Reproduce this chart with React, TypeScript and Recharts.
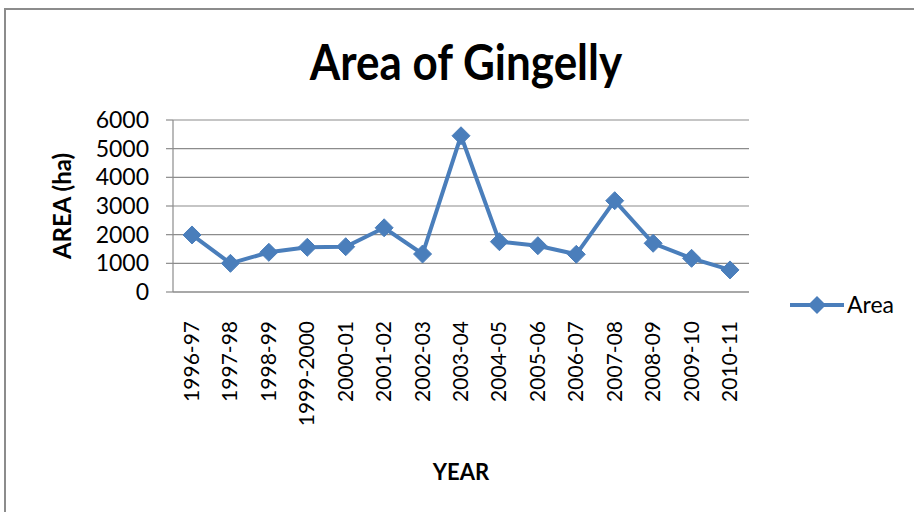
import React from "react";
import { LineChart, Line, XAxis, YAxis, CartesianGrid, Label } from "recharts";

const years = [
  "1996-97", "1997-98", "1998-99", "1999-2000", "2000-01", "2001-02", "2002-03", "2003-04",
  "2004-05", "2005-06", "2006-07", "2007-08", "2008-09", "2009-10", "2010-11",
];
const areaValues = [1990, 1000, 1385, 1560, 1580, 2240, 1325, 5450, 1755, 1615, 1315, 3185, 1700, 1175, 770];
const yTicks = [0, 1000, 2000, 3000, 4000, 5000, 6000];
const seriesName = "Area";

const data = years.map((y, i) => ({ year: y, Area: areaValues[i] }));

const BLUE = "#4A7EBB";
const GRID = "#8c8c8c";
const FONT = "Lato, 'Open Sans', sans-serif";

const Diamond = (props: any) => {
  const { cx, cy } = props;
  if (cx == null || cy == null) return null;
  const r = 9;
  return (
    <path
      d={`M${cx},${cy - r} L${cx + r},${cy} L${cx},${cy + r} L${cx - r},${cy} Z`}
      fill={BLUE}
      stroke={BLUE}
      strokeWidth={1}
    />
  );
};

const XTick = (props: any) => {
  const { x, y, payload } = props;
  return (
    <text
      x={0}
      y={0}
      transform={`translate(${x + 7},${y + 21}) rotate(-90)`}
      textAnchor="end"
      fontSize={21}
      fontFamily={FONT}
      fill="#000"
    >
      {payload.value}
    </text>
  );
};

export default function App() {
  return (
    <div style={{ position: "absolute", left: 0, top: 0, width: 914, height: 512, background: "#fff", overflow: "hidden" }}>
      <div
        style={{
          position: "absolute",
          left: 4,
          top: 8,
          width: 920,
          height: 520,
          borderLeft: "2px solid #8c8c8c",
          borderTop: "2px solid #8c8c8c",
        }}
      />
      <svg style={{ position: "absolute", left: 0, top: 0 }} width={914} height={512}>
        <text
          x={0}
          y={0}
          transform="translate(466,80) scale(1,1.15)"
          textAnchor="middle"
          fontSize={44}
          fontWeight={700}
          fontFamily={FONT}
          fill="#000"
        >
          Area of Gingelly
        </text>
        <line x1={790} y1={305} x2={844} y2={305} stroke={BLUE} strokeWidth={4} />
        <path d="M817,296 L826,305 L817,314 L808,305 Z" fill={BLUE} />
        <text x={847} y={313} fontSize={23} fontFamily={FONT} fill="#000">
          {seriesName}
        </text>
      </svg>
      <div style={{ position: "absolute", left: 0, top: 0 }}>
        <LineChart
          width={914}
          height={512}
          data={data}
          margin={{ top: 120, right: 165, bottom: 120, left: 113 }}
        >
          <CartesianGrid horizontal={true} vertical={false} stroke={GRID} strokeWidth={1.2} />
          <XAxis
            dataKey="year"
            interval={0}
            tick={<XTick />}
            tickLine={false}
            axisLine={{ stroke: GRID, strokeWidth: 1.2 }}
            padding={{ left: 19, right: 19 }}
            height={100}
          >
            <Label
              value="YEAR"
              position="insideBottom"
              offset={-88}
              style={{ fontFamily: FONT, fontWeight: 700, fontSize: 22, fill: "#000" }}
            />
          </XAxis>
          <YAxis
            domain={[0, 6000]}
            ticks={yTicks}
            interval={0}
            width={60}
            tick={{ fontSize: 23, fontFamily: FONT, fill: "#000" }}
            tickLine={{ stroke: GRID, strokeWidth: 1.2 }}
            tickSize={7}
            tickMargin={17}
            axisLine={{ stroke: GRID, strokeWidth: 1.2 }}
          >
            <Label
              value="AREA (ha)"
              angle={-90}
              position="insideLeft"
              offset={-51}
              style={{ fontFamily: FONT, fontWeight: 700, fontSize: 24, fill: "#000", textAnchor: "middle" }}
            />
          </YAxis>
          <Line
            type="linear"
            dataKey="Area"
            name={seriesName}
            stroke={BLUE}
            strokeWidth={4}
            dot={<Diamond />}
            activeDot={false}
            isAnimationActive={false}
          />
        </LineChart>
      </div>
    </div>
  );
}
